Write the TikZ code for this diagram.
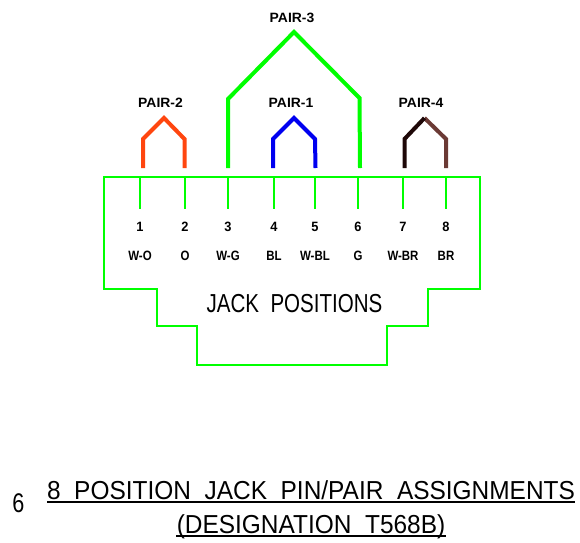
\documentclass[tikz,border=0pt]{standalone}
\usepackage{fontspec}
\setmainfont{Liberation Sans}
\newfontfamily\cadfont[WordSpace=2.0]{Liberation Sans}
\definecolor{lineg}{RGB}{0,255,0}
\definecolor{pairorange}{RGB}{255,70,15}
\definecolor{pairblue}{RGB}{0,0,240}
\definecolor{pairbrown}{RGB}{107,58,53}
\definecolor{pairdark}{RGB}{30,8,8}
\newcommand{\nar}[2]{\scalebox{#1}[1]{#2}}
\tikzset{
  x=1pt,y=-1pt,
  pin/.style={draw=lineg,line width=1.6pt},
  jack/.style={draw=lineg,line width=1.7pt},
  pair/.style={line width=4pt,line join=miter,line cap=butt},
  small/.style={inner sep=0pt,font=\fontsize{13.5}{13.5}\selectfont\bfseries,text=black,anchor=center},
  big/.style={inner sep=0pt,font=\cadfont\fontsize{26}{26}\selectfont,text=black,anchor=center},
  rule/.style={draw=black,line width=1.3pt}
}
\begin{document}
\begin{tikzpicture}
\useasboundingbox (0,0) rectangle (580,542);
\draw[jack] (104,177) -- (480,177) -- (480,289) -- (428,289) -- (428,326) -- (387,326) -- (387,365) -- (197,365) -- (197,326) -- (157,326) -- (157,289) -- (104,289) -- cycle;
% pin ticks and labels
\foreach \n/\x/\num/\code in {a/140/1/W-O,b/185/2/O,c/228/3/W-G,d/274/4/BL,e/315/5/W-BL,f/358/6/G,g/403/7/W-BR,h/446/8/BR}{
  \coordinate (top\n) at (\x,177);
  \coordinate (bot\n) at (\x,209);
  \draw[pin] (top\n) -- (bot\n);
  \node[small] (num\n) at (\x,227) {\nar{0.95}{\num}};
  \node[small] (code\n) at (\x,255.5) {\nar{0.85}{\code}};
}
% pairs
\coordinate (p2a) at (143,168); \coordinate (p2b) at (143,139); \coordinate (p2c) at (164,118); \coordinate (p2d) at (184.5,139); \coordinate (p2e) at (184.5,168);
\coordinate (p1a) at (273,168); \coordinate (p1b) at (273,139); \coordinate (p1c) at (294,118); \coordinate (p1d) at (315,139); \coordinate (p1e) at (315.5,168);
\coordinate (p3a) at (228,168); \coordinate (p3b) at (228,99); \coordinate (p3c) at (294,32); \coordinate (p3d) at (359.5,98); \coordinate (p3e) at (360,168);
\coordinate (p4a) at (404.5,168); \coordinate (p4b) at (404.5,139); \coordinate (p4c) at (424.5,118); \coordinate (p4d) at (446,139); \coordinate (p4e) at (446,168);
\draw[pair,pairorange] (p2a) -- (p2b) -- (p2c) -- (p2d) -- (p2e);
\draw[pair,pairblue] (p1a) -- (p1b) -- (p1c) -- (p1d) -- (p1e);
\draw[pair,lineg] (p3a) -- (p3b) -- (p3c) -- (p3d) -- (p3e);
\draw[pair,pairbrown] (p4c) -- (p4d) -- (p4e);
\draw[pair,pairdark] (p4a) -- (p4b) -- (p4c);
% pair labels
\node[small] (lp3) at (292,18) {\nar{1.03}{PAIR-3}};
\node[small] (lp2) at (160.5,103) {\nar{1.03}{PAIR-2}};
\node[small] (lp1) at (291,103) {\nar{1.03}{PAIR-1}};
\node[small] (lp4) at (421,103) {\nar{1.03}{PAIR-4}};
% jack label
\node[big,font=\cadfont\fontsize{26}{26}\selectfont] (jk) at (294.5,304) {\nar{0.79}{JACK POSITIONS}};
% title
\node[big] (t1) at (311,490) {\nar{0.94}{8 POSITION JACK PIN/PAIR ASSIGNMENTS}};
\node[big] (t2) at (311,526.5) {\nar{0.94}{(DESIGNATION T568B)}};
\node[inner sep=0pt,font=\fontsize{27}{27}\selectfont,anchor=center] (six) at (18.5,503.5) {\nar{0.8}{6}};
\coordinate (r1a) at (47,502); \coordinate (r1b) at (575,502);
\coordinate (r2a) at (176,536); \coordinate (r2b) at (446,536);
\draw[rule] (r1a) -- (r1b);
\draw[rule] (r2a) -- (r2b);
\end{tikzpicture}
\end{document}
